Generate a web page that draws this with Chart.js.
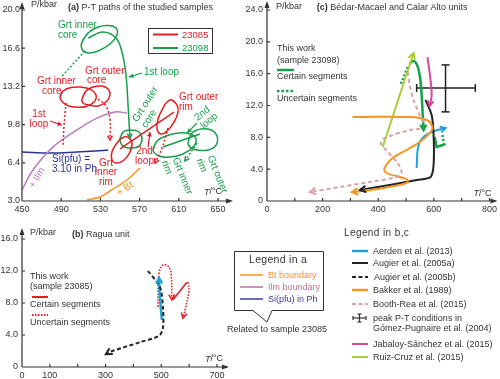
<!DOCTYPE html>
<html>
<head>
<meta charset="utf-8">
<script src="https://cdn.jsdelivr.net/npm/chart.js"></script>
<style>
  body { margin: 0; width: 500px; height: 379px; position: relative; background: #fff; overflow: hidden;
         font-family: "Liberation Sans", Arial, sans-serif; color: #333; }
  canvas { position: absolute; }
  svg { position: absolute; left: 0; top: 0; }
  .t { position: absolute; white-space: nowrap; font-size: 9px; line-height: 10px; }
</style>
</head>
<body>
<canvas id="chartA" width="240" height="220" style="left:0;top:0"></canvas>
<canvas id="chartC" width="262" height="220" style="left:238px;top:0"></canvas>
<canvas id="chartB" width="240" height="155" style="left:0;top:224px"></canvas>

<svg width="500" height="379">
  <!-- sample box in (a) -->
  <rect x="148.5" y="28.5" width="64" height="25" fill="none" stroke="#333" stroke-width="1"/>
  <line x1="153" y1="34.5" x2="178" y2="34.5" stroke="#e31e24" stroke-width="2"/>
  <line x1="153" y1="48" x2="178" y2="48" stroke="#16a04a" stroke-width="2"/>
  <!-- legend in a -->
  <path d="M234.5,251.5 H323.5 V310.5 H272 L267,322 L253,310.5 H234.5 Z" fill="#fff" stroke="#333" stroke-width="1"/>
  <line x1="240" y1="275" x2="263" y2="275" stroke="#f7931e" stroke-width="1.5"/>
  <line x1="240" y1="287" x2="263" y2="287" stroke="#c0709c" stroke-width="1.5"/>
  <line x1="240" y1="299" x2="263" y2="299" stroke="#3b3f9c" stroke-width="1.5"/>
  <!-- legend in b,c -->
  <line x1="352" y1="251" x2="368" y2="251" stroke="#1fa3dc" stroke-width="2.5"/>
  <line x1="352" y1="263" x2="368" y2="263" stroke="#222" stroke-width="2"/>
  <line x1="352" y1="277" x2="368" y2="277" stroke="#222" stroke-width="2" stroke-dasharray="4,2.5"/>
  <line x1="352" y1="290" x2="368" y2="290" stroke="#f7931e" stroke-width="2.5"/>
  <line x1="352" y1="304" x2="368" y2="304" stroke="#dba2a6" stroke-width="2" stroke-dasharray="4,2.5"/>
  <g stroke="#333" stroke-width="1.2">
    <line x1="353" y1="318" x2="366" y2="318"/>
    <line x1="353" y1="316" x2="353" y2="320"/>
    <line x1="366" y1="316" x2="366" y2="320"/>
    <line x1="359.5" y1="314" x2="359.5" y2="322"/>
    <line x1="357.5" y1="314" x2="361.5" y2="314"/>
    <line x1="357.5" y1="322" x2="361.5" y2="322"/>
  </g>
  <line x1="352" y1="344" x2="368" y2="344" stroke="#d6479b" stroke-width="2"/>
  <line x1="352" y1="357" x2="368" y2="357" stroke="#a9cf38" stroke-width="2"/>
</svg>

<div class="t" style="left:182px;top:29.5px;color:#e31e24;font-size:9.5px">23085</div>
<div class="t" style="left:182px;top:43px;color:#16a04a;font-size:9.5px">23098</div>

<div class="t" style="left:249px;top:253px;font-size:10.5px;line-height:12px;letter-spacing:0.3px">Legend in a</div>
<div class="t" style="left:268px;top:270px;color:#f7931e">Bt boundary</div>
<div class="t" style="left:268px;top:282px;color:#c0709c">Ilm boundary</div>
<div class="t" style="left:268px;top:294px;color:#3b3f9c">Si(pfu) in Ph</div>
<div class="t" style="left:227px;top:324px">Related to sample 23085</div>

<div class="t" style="left:344px;top:227px;font-size:10px;line-height:12px;letter-spacing:0.4px">Legend in b,c</div>
<div class="t" style="left:373px;top:246px">Aerden et al. (2013)</div>
<div class="t" style="left:373px;top:258px">Augier et al. (2005a)</div>
<div class="t" style="left:374px;top:272px">Augier et al. (2005b)</div>
<div class="t" style="left:373px;top:285px">Bakker et al. (1989)</div>
<div class="t" style="left:373px;top:299px">Booth-Rea et al. (2015)</div>
<div class="t" style="left:373px;top:313px">peak P-T conditions in</div>
<div class="t" style="left:373px;top:323px">Gómez-Pugnaire et al. (2004)</div>
<div class="t" style="left:373px;top:339px">Jabaloy-Sánchez et al. (2015)</div>
<div class="t" style="left:373px;top:352px">Ruiz-Cruz et al. (2015)</div>

<script>
// ---------- panel (a): P-T paths of samples 23085 / 23098 ----------
const tempTicksA = [450, 490, 530, 570, 610, 650];
const presTicksA = [3.0, 6.4, 9.8, 13.2, 16.6, 20.0];

// garnet zones of 23085 (red), [T, P]
const redInnerCore = [[488.8,12.25],[491.8,12.79],[500.0,13.10],[510.2,13.14],[519.4,12.96],[525.5,12.43],[523.5,11.81],[515.3,11.41],[504.1,11.36],[493.9,11.63]];
const redOuterCore = [[511.2,12.07],[515.3,12.79],[522.4,13.14],[531.6,13.23],[537.8,12.96],[539.8,12.43],[535.7,11.81],[527.6,11.45],[518.4,11.54],[512.2,11.72]];
const redInnerRim = [[558.2,8.69],[562.2,8.25],[560.2,7.36],[554.1,6.65],[546.9,6.38],[541.8,6.65],[541.8,7.36],[546.9,8.16],[552.0,8.61]];
const redOuterRim = [[603.1,11.99],[608.2,11.53],[609.2,10.92],[605.1,10.03],[598.0,9.23],[591.8,8.96],[587.8,9.41],[588.8,10.30],[593.9,11.27],[598.0,11.81]];
const redLoop1Left = [[494.9,11.72],[492.9,9.76],[491.8,7.80]];
const redLoop1Right = [[527.6,12.07],[535.7,11.45],[539.8,10.21],[539.8,8.43]];
const redRimLink = [[550.0,7.63],[605.1,10.92]];
const redLoop2 = [[599.0,9.49],[592.9,7.72],[585.7,6.38]];
const redPointer1 = [[478.6,10.12],[490.8,9.76]];
const redPointer2 = [[578.6,7.80],[580.6,9.14]];

// garnet zones of 23098 (green)
const greenInnerCore = [[511.2,17.15],[517.3,17.95],[527.6,18.48],[537.8,18.61],[545.9,18.39],[546.9,17.77],[539.8,16.97],[527.6,16.35],[517.3,16.17],[511.2,16.52]];
const greenOuterCore = [[550.0,8.52],[553.1,9.14],[561.2,9.32],[569.4,9.14],[572.4,8.52],[569.4,7.89],[561.2,7.72],[553.1,7.89]];
const greenInnerRim = [[583.7,7.54],[587.8,8.34],[596.9,8.78],[609.2,9.05],[621.4,8.96],[627.6,8.52],[624.5,7.80],[614.3,7.18],[601.0,6.91],[589.8,7.00]];
const greenOuterRim = [[619.4,8.25],[623.5,9.05],[632.7,9.41],[642.9,9.32],[649.0,8.78],[648.0,7.98],[639.8,7.54],[628.6,7.54],[621.4,7.80]];
const greenLoop1 = [[517.3,17.50],[532.7,18.04],[545.9,17.50],[552.0,16.26],[556.1,14.21],[558.2,11.54],[560.2,8.61]];
const greenCoreDotted = [[514.3,16.35],[490.8,14.12]];
const greenRimLink = [[593.9,7.80],[631.6,8.96]];
const greenLoop2 = [[628.6,8.16],[616.3,6.56]];
const greenPointer1 = [[572.4,14.39],[559.2,14.03]];
const greenPointer2 = [[628.6,9.94],[618.4,9.05]];

// mineral boundaries
const ilmBoundary = [[450,3.98],[461.2,5.76],[481.6,7.80],[506.1,9.32],[526.5,10.38],[544.9,10.92],[557.1,10.83]];
const siBoundary = [[450,7.36],[478.6,7.27],[506.1,7.36],[524.5,7.45],[537.8,7.54]];
const btBoundary = [[516.3,3.09],[529.6,3.36],[539.8,3.89],[557.1,4.87],[570.4,5.94]];

// ---------- panel (c): Bédar-Macael and Calar Alto units ----------
const tempTicksC = [0, 100, 200, 300, 400, 500, 600, 700, 800];
const tempLabelsC = [0, 200, 400, 600, 800];
const presTicksC = [0, 4, 8, 12, 16, 20, 24];

const ruizCruz = [[416,6.78],[527,18.59]];
const thisWorkC = [[513,17.21],[524,17.59],[538,17.21],[549,15.83],[556,13.32],[560,10.80],[563,8.92]];
const thisWorkCDotted = [[506,16.83],[481,14.70]];
const thisWorkCRim = [[603,8.04],[610,6.78],[642,7.16]];
const thisWorkCRimDotted = [[631,8.29],[635,7.41]];
const jabaloy = [[577,18.09],[588,15.20],[592,13.32],[585,11.93]];
const augierA = [[570,12.7],[592,10.80],[599,8.29],[599,4.52],[588,3.02],[538,2.64],[441,2.01],[334,1.38]];
const bakker = [[308,10.55],[513,10.55],[574,10.18],[595,9.30],[585,8.54],[549,7.41],[502,6.41],[452,5.40],[423,4.15],[430,3.52],[477,3.02],[506,2.64],[502,2.26],[441,1.76],[344,1.26],[305,1.13]];
const boothRea = [[506,16.21],[513,14.57],[527,12.69],[549,10.80],[567,9.30],[513,8.92],[423,7.91],[409,7.29],[434,6.16],[470,4.77],[484,3.64],[466,3.02],[369,2.39],[154,1.13]];
const aerdenC = [[538,4.15],[545,7.04],[567,8.17],[603,8.79],[642,9.17]];
const peakT = 642, peakP = 14.2;
const peakTRange = [538, 749];
const peakPRange = [11.2, 17.1];

// ---------- panel (b): Ragua unit ----------
const tempTicksB = [0, 100, 200, 300, 400, 500, 600, 700];
const tempLabelsB = [0, 100, 300, 500, 700];
const presTicksB = [0, 4, 8, 12, 16];

const augierB = [[452,12.0],[495,10.0],[506,7.4],[506,4.9],[492,3.9],[424,3.1],[316,1.9],[301,1.6]];
const aerdenB = [[502,5.9],[495,8.75],[492,11.1]];
const thisWorkB1 = [[488,7.5],[492,11.75],[506,12.75],[524,12.6],[535,11.75],[538,8.4]];
const thisWorkB2 = [[542,8.4],[592,10.6]];
const thisWorkB3 = [[596,10.6],[599,9.4],[578,6.1]];

// ---------- colours ----------
const RED = '#e31e24', GREEN = '#16a04a', BLUE = '#1fa3dc', ORANGE = '#f7931e',
      PINK = '#dba2a6', MAGENTA = '#d6479b', LIME = '#a9cf38', BLACK = '#222',
      ILM = '#b57bbd', SI = '#2b3590', TXT = '#333';

Chart.defaults.font.family = '"Liberation Sans", Arial, sans-serif';

function path(points, color, extra) {
  return Object.assign({
    data: points.map(p => ({ x: p[0], y: p[1] })),
    borderColor: color, backgroundColor: color, borderWidth: 1.5,
    showLine: true, pointRadius: 0, tension: 0.4, fill: false, clip: false
  }, extra || {});
}
// closed outline (garnet zone ellipses)
function loop(points, color, extra) {
  return path(points.concat([points[0], points[1]]), color, extra);
}

// arrow heads at the end of a path
const arrowPlugin = {
  id: 'arrows',
  afterDatasetsDraw(chart) {
    const ctx = chart.ctx;
    chart.data.datasets.forEach((ds, i) => {
      if (!ds.arrow) return;
      const pts = chart.getDatasetMeta(i).data;
      const end = pts[pts.length - 1];
      let fx = pts[pts.length - 2].x, fy = pts[pts.length - 2].y;
      if (end.cp1x !== undefined && Math.abs(end.cp1x - end.x) + Math.abs(end.cp1y - end.y) > 0.5) {
        fx = end.cp1x; fy = end.cp1y;
      }
      const ang = Math.atan2(end.y - fy, end.x - fx);
      const s = ds.arrowSize || 6;
      ctx.save();
      ctx.strokeStyle = ds.borderColor; ctx.fillStyle = ds.borderColor;
      ctx.lineWidth = ds.borderWidth; ctx.setLineDash([]);
      ctx.beginPath();
      ctx.moveTo(end.x - s * Math.cos(ang - 0.5), end.y - s * Math.sin(ang - 0.5));
      ctx.lineTo(end.x, end.y);
      ctx.lineTo(end.x - s * Math.cos(ang + 0.5), end.y - s * Math.sin(ang + 0.5));
      if (ds.arrow === 'solid') { ctx.closePath(); ctx.fill(); } else ctx.stroke();
      ctx.restore();
    });
  }
};

// axes with arrows, inward ticks and the text notes
function framePlugin(xOver, yOver, notes) {
  return {
    id: 'frame',
    afterDraw(chart) {
      const ctx = chart.ctx, xs = chart.scales.x, ys = chart.scales.y;
      const { left, right, top, bottom } = chart.chartArea;
      ctx.save();
      ctx.strokeStyle = TXT; ctx.fillStyle = TXT; ctx.lineWidth = 1.2;
      ctx.beginPath();
      ctx.moveTo(left, bottom); ctx.lineTo(right + xOver - 2, bottom);
      ctx.moveTo(left, bottom); ctx.lineTo(left, top - yOver + 2);
      xs.ticks.forEach(t => { const p = xs.getPixelForValue(t.value); ctx.moveTo(p, bottom); ctx.lineTo(p, bottom - 3); });
      ys.ticks.forEach(t => { const p = ys.getPixelForValue(t.value); ctx.moveTo(left, p); ctx.lineTo(left + 3, p); });
      ctx.stroke();
      ctx.beginPath();
      ctx.moveTo(right + xOver, bottom); ctx.lineTo(right + xOver - 7, bottom - 2.5); ctx.lineTo(right + xOver - 7, bottom + 2.5);
      ctx.closePath();
      ctx.moveTo(left, top - yOver); ctx.lineTo(left - 2.5, top - yOver + 7); ctx.lineTo(left + 2.5, top - yOver + 7);
      ctx.closePath();
      ctx.fill();

      notes.forEach(n => {
        const py = ys.getPixelForValue(n.y);
        if (n.line) {
          ctx.save();
          ctx.strokeStyle = n.c; ctx.lineWidth = n.w || 2; ctx.setLineDash(n.dash || []);
          ctx.beginPath();
          ctx.moveTo(xs.getPixelForValue(n.line[0]), py);
          ctx.lineTo(xs.getPixelForValue(n.line[1]), py);
          ctx.stroke();
          ctx.restore();
          return;
        }
        const px = xs.getPixelForValue(n.x);
        const size = n.s || 9;
        const parts = n.parts || [{ t: n.t }];
        const fontOf = p => (p.i ? 'italic ' : '') + (p.b ? 'bold ' : '') + size + 'px "Liberation Sans", Arial, sans-serif';
        let total = 0;
        parts.forEach(p => { ctx.font = fontOf(p); total += ctx.measureText(p.t).width; });
        ctx.save();
        ctx.translate(px, py);
        if (n.r) ctx.rotate(n.r * Math.PI / 180);
        ctx.textBaseline = 'middle'; ctx.textAlign = 'left';
        ctx.fillStyle = n.c || TXT;
        let x0 = n.a === 'center' ? -total / 2 : 0;
        parts.forEach(p => { ctx.font = fontOf(p); ctx.fillText(p.t, x0, 0); x0 += ctx.measureText(p.t).width; });
        ctx.restore();
      });
      ctx.restore();
    }
  };
}

function makeChart(id, cfg) {
  const tickFont = { size: 9 };
  return new Chart(document.getElementById(id), {
    type: 'scatter',
    data: { datasets: cfg.datasets },
    options: {
      responsive: false, animation: false, events: [],
      layout: { padding: cfg.pad },
      plugins: { legend: { display: false }, tooltip: { enabled: false } },
      scales: {
        x: {
          type: 'linear', min: cfg.x[0], max: cfg.x[1],
          grid: { display: false, drawTicks: false }, border: { display: false },
          afterBuildTicks: s => { s.ticks = cfg.xTicks.map(v => ({ value: v })); },
          afterFit: s => { s.height = cfg.xH; },
          ticks: { autoSkip: false, maxRotation: 0, padding: 3, color: TXT, font: tickFont, callback: cfg.xFmt }
        },
        y: {
          type: 'linear', min: cfg.y[0], max: cfg.y[1],
          grid: { display: false, drawTicks: false }, border: { display: false },
          afterBuildTicks: s => { s.ticks = cfg.yTicks.map(v => ({ value: v })); },
          afterFit: s => { s.width = cfg.yW; },
          ticks: { autoSkip: false, padding: cfg.yPad, color: TXT, font: tickFont, callback: cfg.yFmt }
        }
      }
    },
    plugins: [arrowPlugin, framePlugin(cfg.xOver, cfg.yOver, cfg.notes)]
  });
}

const dot = { borderDash: [2, 2] };
const oneDec = v => v.toFixed(1);
const zeroOrDec = v => v === 0 ? '0' : v.toFixed(1);

// ---------- panel (a) ----------
makeChart('chartA', {
  x: [450, 650], y: [3, 20], xTicks: tempTicksA, yTicks: presTicksA,
  xFmt: v => String(v), yFmt: oneDec, yW: 22, xH: 19, yPad: 2,
  pad: { left: 0, right: 22, top: 10, bottom: 0 }, xOver: 15, yOver: 8,
  datasets: [
    path(ilmBoundary, ILM),
    path(siBoundary, SI),
    path(btBoundary, ORANGE),
    loop(redInnerCore, RED), loop(redOuterCore, RED),
    loop(redInnerRim, RED), loop(redOuterRim, RED),
    path(redLoop1Left, RED, dot),
    path(redLoop1Right, RED, Object.assign({ arrow: 'open', arrowSize: 5 }, dot)),
    path(redRimLink, RED, { tension: 0 }),
    path(redLoop2, RED, Object.assign({ arrow: 'open', arrowSize: 5 }, dot)),
    path(redPointer1, RED, { tension: 0, borderWidth: 1.2, arrow: 'solid', arrowSize: 5 }),
    path(redPointer2, RED, { tension: 0, borderWidth: 1.2, arrow: 'solid', arrowSize: 5 }),
    loop(greenInnerCore, GREEN), loop(greenOuterCore, GREEN),
    loop(greenInnerRim, GREEN), loop(greenOuterRim, GREEN),
    path(greenLoop1, GREEN, { arrow: 'open', arrowSize: 5 }),
    path(greenCoreDotted, GREEN, dot),
    path(greenRimLink, GREEN, { tension: 0 }),
    path(greenLoop2, GREEN, Object.assign({ arrow: 'open', arrowSize: 5 }, dot)),
    path(greenPointer1, GREEN, { tension: 0, borderWidth: 1.2, arrow: 'solid', arrowSize: 5 }),
    path(greenPointer2, GREEN, { tension: 0, borderWidth: 1.2, arrow: 'solid', arrowSize: 5 })
  ],
  notes: [
    { x: 496.9, y: 20.18, parts: [{ t: '(a) ', b: true }, { t: 'P-T paths of the studied samples' }] },
    { x: 459.2, y: 20.45, t: 'P/kbar' },
    { x: 635.7, y: 3.80, parts: [{ t: 'T', i: true }, { t: '/°C' }] },
    { x: 486.7, y: 18.67, t: 'Grt inner', c: GREEN, s: 10 },
    { x: 486.7, y: 17.78, t: 'core', c: GREEN, s: 10 },
    { x: 574.5, y: 14.48, t: '1st loop', c: GREEN, s: 10 },
    { x: 565.3, y: 10.12, t: 'Grt outer', c: GREEN, s: 10, r: -58 },
    { x: 574.5, y: 9.59, t: 'core', c: GREEN, s: 10, r: -58 },
    { x: 627.6, y: 10.30, t: '2nd', c: GREEN, s: 10, r: -40 },
    { x: 633.7, y: 9.59, t: 'loop', c: GREEN, s: 10, r: -40 },
    { x: 606.1, y: 6.83, t: 'Grt inner', c: GREEN, s: 10, r: 68 },
    { x: 594.9, y: 6.56, t: 'rim', c: GREEN, s: 10, r: 68 },
    { x: 641.8, y: 7.00, t: 'Grt outer', c: GREEN, s: 10, r: 68 },
    { x: 630.6, y: 6.74, t: 'rim', c: GREEN, s: 10, r: 68 },
    { x: 465.3, y: 13.68, t: 'Grt inner', c: RED, s: 10 },
    { x: 470.4, y: 12.79, t: 'core', c: RED, s: 10 },
    { x: 514.3, y: 14.57, t: 'Grt outer', c: RED, s: 10 },
    { x: 516.3, y: 13.77, t: 'core', c: RED, s: 10 },
    { x: 467.3, y: 10.74, t: '1st', c: RED, s: 10, a: 'center' },
    { x: 467.3, y: 9.85, t: 'loop', c: RED, s: 10, a: 'center' },
    { x: 610.2, y: 12.26, t: 'Grt outer', c: RED, s: 10 },
    { x: 610.2, y: 11.37, t: 'rim', c: RED, s: 10 },
    { x: 575.0, y: 7.45, t: '2nd', c: RED, s: 10, a: 'center' },
    { x: 575.0, y: 6.56, t: 'loop', c: RED, s: 10, a: 'center' },
    { x: 535.7, y: 6.38, t: 'Grt', c: RED, s: 10, a: 'center' },
    { x: 535.7, y: 5.54, t: 'inner', c: RED, s: 10, a: 'center' },
    { x: 535.7, y: 4.69, t: 'rim', c: RED, s: 10, a: 'center' },
    { x: 480.6, y: 6.74, t: 'Si(pfu) =', c: SI, s: 10 },
    { x: 480.6, y: 5.85, t: '3.10 in Ph', c: SI, s: 10 },
    { x: 465.3, y: 5.05, t: '+ Ilm', c: ILM, s: 10, r: -60, a: 'center' },
    { x: 555.1, y: 4.07, t: '+ Bt', c: ORANGE, s: 10, r: -35, a: 'center' }
  ]
});

// ---------- panel (c) ----------
makeChart('chartC', {
  x: [0, 800], y: [0, 24], xTicks: tempTicksC, yTicks: presTicksC,
  xFmt: v => tempLabelsC.includes(v) ? String(v) : '', yFmt: zeroOrDec, yW: 29, xH: 19, yPad: 4,
  pad: { left: 0, right: 10, top: 10, bottom: 0 }, xOver: 8, yOver: 9,
  datasets: [
    path(boothRea, PINK, { borderWidth: 2, borderDash: [4, 3], tension: 0.3, arrow: 'open', arrowSize: 7 }),
    path(bakker, ORANGE, { borderWidth: 2, arrow: 'open', arrowSize: 7 }),
    path(augierA, BLACK, { borderWidth: 2, tension: 0.3, arrow: 'open', arrowSize: 7 }),
    path(aerdenC, BLUE, { borderWidth: 2, arrow: 'open', arrowSize: 6 }),
    path(ruizCruz, LIME, { borderWidth: 2, tension: 0, arrow: 'open', arrowSize: 7 }),
    path(jabaloy, MAGENTA, { borderWidth: 2, arrow: 'open', arrowSize: 6 }),
    path(thisWorkC, GREEN, { borderWidth: 2.5, arrow: 'open', arrowSize: 6 }),
    path(thisWorkCDotted, GREEN, { borderWidth: 2.5, borderDash: [2, 2], tension: 0 }),
    path(thisWorkCRim, GREEN, { borderWidth: 2.5, tension: 0 }),
    path(thisWorkCRimDotted, GREEN, { borderWidth: 2.5, borderDash: [2, 2], tension: 0 }),
    path([[peakTRange[0], peakP], [peakTRange[1], peakP]], BLACK, {
      borderWidth: 1.5, tension: 0, pointRadius: 4, pointStyle: 'line', pointRotation: 90,
      pointBorderColor: BLACK, pointBorderWidth: 1.5 }),
    path([[peakT, peakPRange[0]], [peakT, peakPRange[1]]], BLACK, {
      borderWidth: 1.5, tension: 0, pointRadius: 4, pointStyle: 'line',
      pointBorderColor: BLACK, pointBorderWidth: 1.5 })
  ],
  notes: [
    { x: 179.3, y: 24.37, parts: [{ t: '(c) ', b: true }, { t: 'Bédar-Macael and Calar Alto units' }] },
    { x: 32.3, y: 24.5, t: 'P/kbar' },
    { x: 742.5, y: 1.0, parts: [{ t: 'T', i: true }, { t: '/°C' }] },
    { x: 35.9, y: 19.10, t: 'This work' },
    { x: 35.9, y: 17.71, t: '(sample 23098)' },
    { line: [35.9, 96.8], y: 16.46, c: GREEN, w: 2.5 },
    { x: 35.9, y: 15.58, t: 'Certain segments' },
    { line: [35.9, 96.8], y: 13.82, c: GREEN, w: 2.5, dash: [2.5, 2] },
    { x: 35.9, y: 12.94, t: 'Uncertain segments' }
  ]
});

// ---------- panel (b) ----------
makeChart('chartB', {
  x: [0, 700], y: [0, 16], xTicks: tempTicksB, yTicks: presTicksB,
  xFmt: v => tempLabelsB.includes(v) ? String(v) : '', yFmt: zeroOrDec, yW: 22, xH: 12, yPad: 4,
  pad: { left: 0, right: 23, top: 15, bottom: 0 }, xOver: 12, yOver: 11,
  datasets: [
    path(augierB, BLACK, { borderWidth: 2, borderDash: [4, 2.5], tension: 0.3, arrow: 'open', arrowSize: 7 }),
    path(aerdenB, BLUE, { borderWidth: 2.5, arrow: 'open', arrowSize: 6 }),
    path(thisWorkB1, RED, { borderWidth: 1.6, borderDash: [1.5, 1.5], arrow: 'open', arrowSize: 6 }),
    path(thisWorkB2, RED, { borderWidth: 1.6, tension: 0 }),
    path(thisWorkB3, RED, { borderWidth: 1.6, borderDash: [1.5, 1.5], arrow: 'open', arrowSize: 6 })
  ],
  notes: [
    { x: 179.5, y: 16.62, parts: [{ t: '(b) ', b: true }, { t: 'Ragua unit' }] },
    { x: 28.7, y: 16.75, t: 'P/kbar' },
    { x: 656.9, y: 1.0, parts: [{ t: 'T', i: true }, { t: '/°C' }] },
    { x: 28.7, y: 11.37, t: 'This work' },
    { x: 28.7, y: 10.12, t: '(sample 23085)' },
    { line: [35.9, 93.3], y: 8.75, c: RED, w: 2 },
    { x: 28.7, y: 7.87, t: 'Certain segments' },
    { line: [35.9, 93.3], y: 6.5, c: RED, w: 2, dash: [1.5, 1.5] },
    { x: 28.7, y: 5.5, t: 'Uncertain segments' }
  ]
});
</script>
</body>
</html>
